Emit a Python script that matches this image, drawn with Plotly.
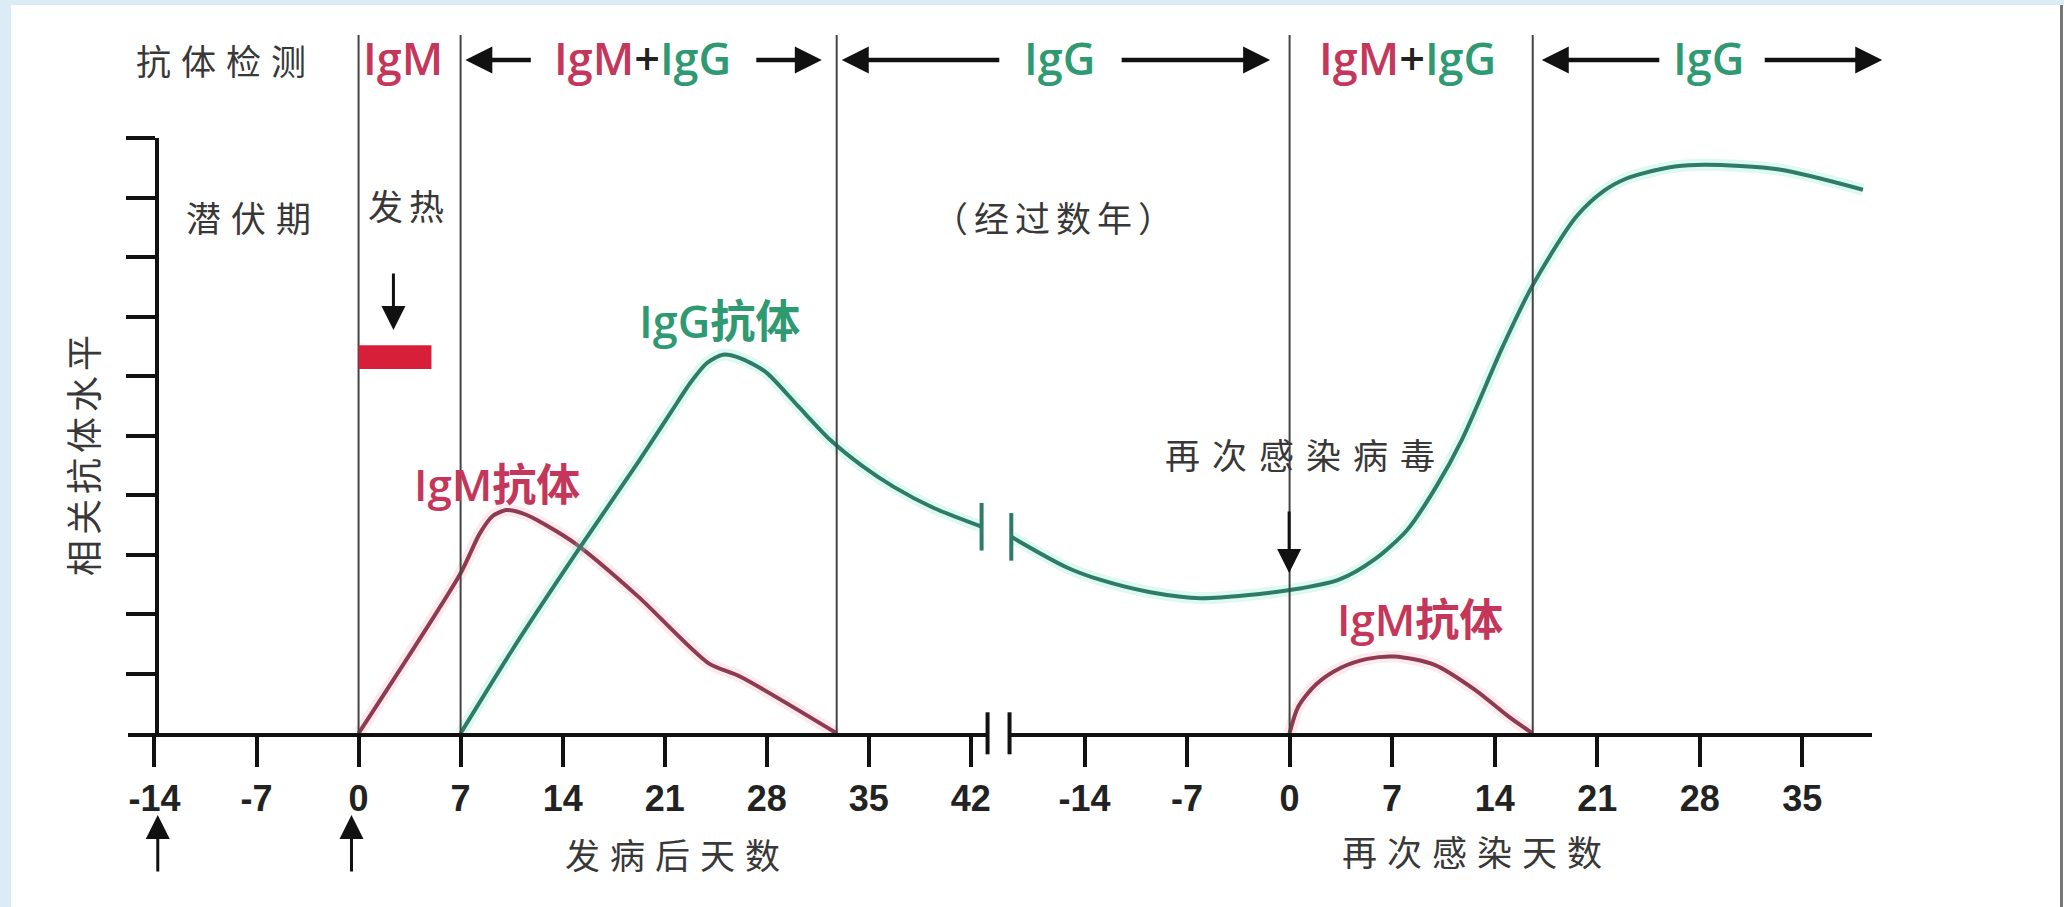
import plotly.graph_objects as go

W, H = 2067, 907

# ---------------- data ----------------
tick_days_1 = [-14, -7, 0, 7, 14, 21, 28, 35, 42]
tick_days_2 = [-14, -7, 0, 7, 14, 21, 28, 35]
tick_text_1 = ["-14", "-7", "0", "7", "14", "21", "28", "35", "42"]
tick_text_2 = ["-14", "-7", "0", "7", "14", "21", "28", "35"]
level_ticks = [1, 2, 3, 4, 5, 6, 7, 8, 9, 10]

# first infection (days after onset)
igm1_day = [0, 7, 8.3, 9.2, 10.12, 11.2, 12.27, 14.85, 19.17, 23.99, 26.2, 32.8]
igm1_val = [0, 2.69, 3.35, 3.65, 3.75, 3.70, 3.58, 3.19, 2.30, 1.18, 0.95, 0]
igg1_day = [7, 10.54, 14.85, 19.17, 21.5, 22.8, 23.9, 25.0, 26.3, 27.98, 30.17, 32.35, 34.5, 36.71, 39.5, 42.74]
igg1_val = [0, 1.40, 3.00, 4.55, 5.42, 5.90, 6.22, 6.36, 6.29, 6.06, 5.49, 4.93, 4.50, 4.14, 3.78, 3.47]

# re-infection (days after re-infection)
igg2_day = [-19.0, -15.24, -12.95, -9.5, -6.06, 0.12, 3.37, 5.8, 8.04, 10.0, 11.76, 14.54, 16.58,
            19.58, 21.5, 23.0, 24.19, 26.3, 28.38, 33.43, 39.14]
igg2_val = [3.30, 2.79, 2.58, 2.37, 2.27, 2.41, 2.58, 2.92, 3.42, 4.14, 4.93, 6.49, 7.52,
            8.68, 9.12, 9.32, 9.41, 9.52, 9.55, 9.47, 9.13]
igm2_day = [0, 0.6, 1.8, 3.5, 5.3, 7.14, 9.9, 12.66, 14.96, 16.58]
igm2_val = [0, 0.45, 0.82, 1.10, 1.25, 1.29, 1.15, 0.73, 0.28, 0]

phase_lines_1 = [0, 7, 32.8]
phase_lines_2 = [0, 16.6]
fever_days = [0, 5]
fever_level = [6.12, 6.52]

# ---------------- style ----------------
RED_T = "#c4375a"
GRN_T = "#2f9a72"
RED_L = "#8e3b52"
GRN_L = "#2e7b68"
TXT = "#383838"
CJK = "Noto Sans CJK SC"
LAT = "Open Sans, Noto Sans, sans-serif"


def PX(x):
    return x / W


def PY(y):
    return 1 - y / H


fig = go.Figure()


def curve(xs, ys, axis, color, glow, smooth):
    fig.add_trace(go.Scatter(x=xs, y=ys, xaxis=axis, yaxis="y", mode="lines",
                             line=dict(color=glow, width=12, shape="spline", smoothing=smooth),
                             hoverinfo="skip", showlegend=False))
    fig.add_trace(go.Scatter(x=xs, y=ys, xaxis=axis, yaxis="y", mode="lines",
                             line=dict(color=color, width=4, shape="spline", smoothing=smooth),
                             showlegend=False))


GLOW_G = "rgba(120,230,200,0.25)"
GLOW_R = "rgba(245,160,180,0.22)"
curve(igm1_day, igm1_val, "x", RED_L, GLOW_R, 0.7)
curve(igg1_day, igg1_val, "x", GRN_L, GLOW_G, 0.7)
curve(igg2_day, igg2_val, "x2", GRN_L, GLOW_G, 0.8)
curve(igm2_day, igm2_val, "x2", RED_L, GLOW_R, 0.8)

# break marks on the IgG curve
fig.add_trace(go.Scatter(x=[igg1_day[-1]], y=[igg1_val[-1]], xaxis="x", yaxis="y", mode="markers",
                         marker=dict(symbol="line-ns", size=34, line=dict(color=GRN_L, width=4)),
                         cliponaxis=False, showlegend=False, hoverinfo="skip"))
fig.add_trace(go.Scatter(x=[igg2_day[0]], y=[igg2_val[0]], xaxis="x2", yaxis="y", mode="markers",
                         marker=dict(symbol="line-ns", size=34, line=dict(color=GRN_L, width=4)),
                         cliponaxis=False, showlegend=False, hoverinfo="skip"))

X1_RANGE = [-15.83, 43.15]
X2_RANGE = [-19.12, 39.78]

# break marks on the x axis
fig.add_trace(go.Scatter(x=[X1_RANGE[1]], y=[0], xaxis="x", yaxis="y", mode="markers",
                         marker=dict(symbol="line-ns", size=30, line=dict(color="#111", width=4)),
                         cliponaxis=False, showlegend=False, hoverinfo="skip"))
fig.add_trace(go.Scatter(x=[X2_RANGE[0]], y=[0], xaxis="x2", yaxis="y", mode="markers",
                         marker=dict(symbol="line-ns", size=30, line=dict(color="#111", width=4)),
                         cliponaxis=False, showlegend=False, hoverinfo="skip"))

shapes = []
# light blue frame
shapes.append(dict(type="rect", xref="paper", yref="paper", x0=0, x1=PX(11), y0=0, y1=1,
                   fillcolor="#dcecf6", line=dict(width=0), layer="below"))
shapes.append(dict(type="rect", xref="paper", yref="paper", x0=0, x1=1, y0=PY(5), y1=1,
                   fillcolor="#dcecf6", line=dict(width=0), layer="below"))
shapes.append(dict(type="line", xref="paper", yref="paper", x0=PX(2064.5), x1=PX(2064.5), y0=0, y1=PY(5),
                   line=dict(color="#777", width=3)))

for d in phase_lines_1:
    shapes.append(dict(type="line", xref="x", yref="paper", x0=d, x1=d, y0=PY(733), y1=PY(35),
                       line=dict(color="#444", width=2)))
for d in phase_lines_2:
    shapes.append(dict(type="line", xref="x2", yref="paper", x0=d, x1=d, y0=PY(733), y1=PY(35),
                       line=dict(color="#444", width=2)))

shapes.append(dict(type="rect", xref="x", yref="y", x0=fever_days[0], x1=fever_days[1],
                   y0=fever_level[0], y1=fever_level[1], fillcolor="#d81f3a", line=dict(width=0)))

annotations = []


def label(text, x, y, size, color=TXT, family=CJK, ls=0, angle=0, weight=None):
    if ls:
        text = '<span style="letter-spacing:%dpx">%s</span>' % (ls, text)
    f = dict(size=size, color=color, family=family)
    if weight:
        f["weight"] = weight
    annotations.append(dict(text=text, x=PX(x), y=PY(y), xref="paper", yref="paper",
                            showarrow=False, font=f, textangle=angle,
                            xanchor="center", yanchor="middle"))


def arrow(hx, hy, tx, ty, width=4.5, size=1.2, head=2):
    annotations.append(dict(text="", x=PX(hx), y=PY(hy), xref="paper", yref="paper",
                            ax=tx - hx, ay=ty - hy, axref="pixel", ayref="pixel",
                            showarrow=True, arrowhead=head, arrowsize=size, arrowwidth=width,
                            arrowcolor="#111", standoff=0, startstandoff=0))


def mixed():
    return ('<span style="color:%s">IgM</span><span style="color:#222">+</span>'
            '<span style="color:%s">IgG</span>' % (RED_T, GRN_T))


# top row
label("抗体检测", 226, 59, 35, ls=10)
label("IgM", 404, 57, 45, RED_T, LAT, weight=600)
arrow(466, 60, 533, 60)
label(mixed(), 643, 57, 45, family=LAT, weight=600)
arrow(823, 60, 756, 60)
arrow(843, 60, 1002, 60)
label("IgG", 1061, 57, 45, GRN_T, LAT, weight=600)
arrow(1272, 60, 1122, 60)
label(mixed(), 1410, 57, 45, family=LAT, weight=600)
arrow(1544, 60, 1663, 60)
label("IgG", 1711, 57, 45, GRN_T, LAT, weight=600)
arrow(1885, 60, 1766, 60)

# in-plot labels
label("潜伏期", 254, 217, 35, ls=10)
label("发热", 410, 204, 35, ls=6)
arrow(394, 330, 394, 272, width=3, size=1.6)
label("（经过数年）", 1058, 217, 35, ls=6)
label("IgG抗体", 721, 320, 45, GRN_T, LAT + ", " + CJK, weight=600)
label("IgM抗体", 498, 484, 44, RED_T, LAT + ", " + CJK, weight=600)
label("再次感染病毒", 1308, 453, 35, ls=12)
arrow(1291, 573, 1291, 510, width=3, size=1.6)
label("IgM抗体", 1422, 619, 44, RED_T, LAT + ", " + CJK, weight=600)

# bottom
arrow(158, 815, 158, 873, width=3, size=1.6)
arrow(352, 815, 352, 873, width=3, size=1.6)
label("发病后天数", 678, 853, 35, ls=10)
label("再次感染天数", 1479, 850, 35, ls=10)
label("相关抗体水平", 82, 453, 36, ls=5, angle=-90)

tickfont = dict(size=36, color="#222", family="Liberation Sans, Arial, sans-serif", weight="bold")

xcommon = dict(tickmode="array", ticks="outside", ticklen=30, tickwidth=4, tickcolor="#111",
               showline=True, linewidth=4, linecolor="#111", anchor="y",
               showgrid=False, zeroline=False, tickfont=tickfont, ticklabelstandoff=0)

fig.update_layout(
    width=W, height=H, autosize=False,
    margin=dict(l=0, r=0, t=0, b=0),
    paper_bgcolor="white", plot_bgcolor="rgba(0,0,0,0)",
    showlegend=False,
    xaxis=dict(domain=[PX(128), PX(989)], range=X1_RANGE,
               tickvals=tick_days_1, ticktext=tick_text_1, **xcommon),
    xaxis2=dict(domain=[PX(1011), PX(1875)], range=X2_RANGE,
                tickvals=tick_days_2, ticktext=tick_text_2, **xcommon),
    yaxis=dict(domain=[PY(733.3), PY(138)], range=[0, 10], anchor="free", position=PX(157),
               tickmode="array", tickvals=level_ticks, showticklabels=False,
               ticks="outside", ticklen=29, tickwidth=4, tickcolor="#111",
               showline=True, linewidth=4, linecolor="#111",
               showgrid=False, zeroline=False),
    shapes=shapes,
    annotations=annotations,
)

fig.write_html("out.html", config={"displayModeBar": False},
               post_script="document.body.style.margin='0';document.body.style.overflow='hidden';")
